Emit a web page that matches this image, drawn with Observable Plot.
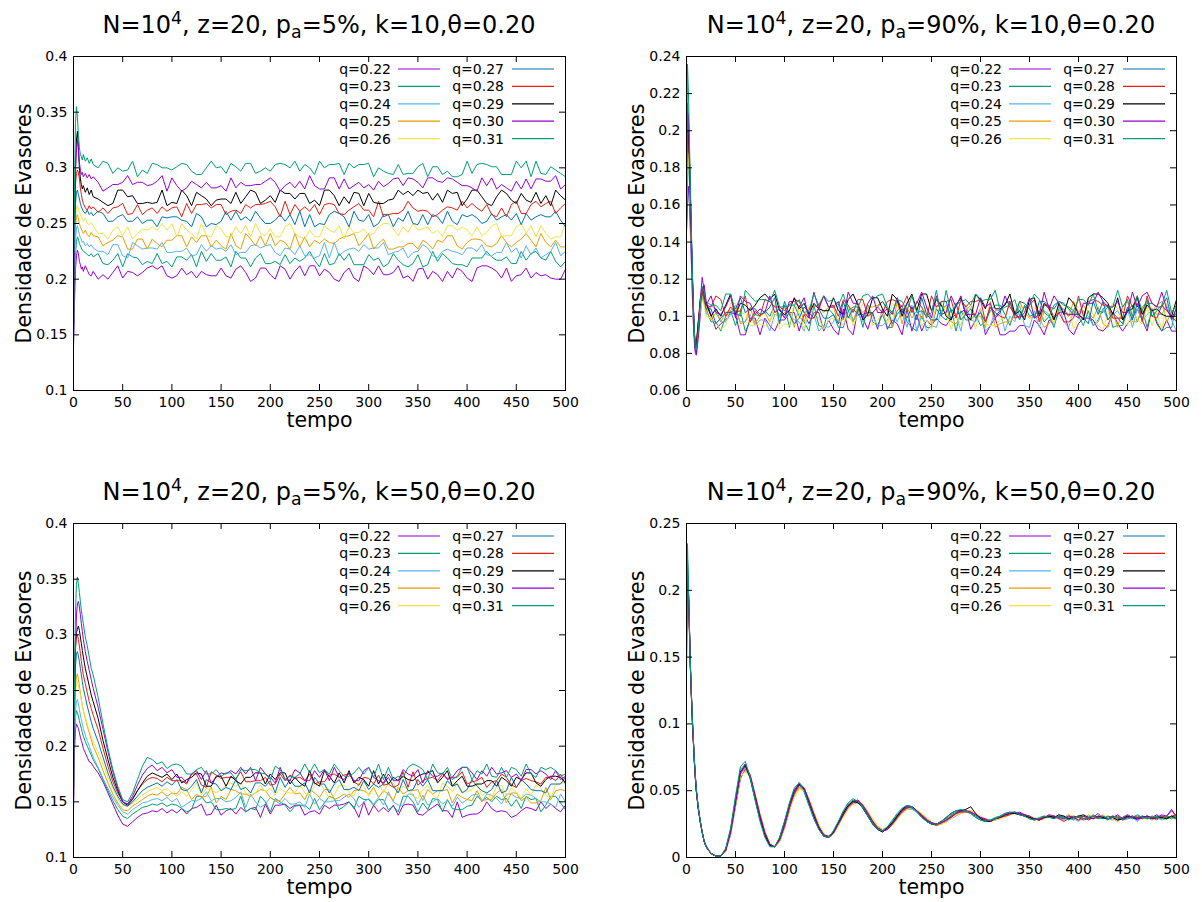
<!DOCTYPE html>
<html>
<head>
<meta charset="utf-8">
<script src="https://cdn.jsdelivr.net/npm/d3@7"></script>
<script src="https://cdn.jsdelivr.net/npm/@observablehq/plot@0.6"></script>
<style>
  html, body { margin: 0; padding: 0; background: #fff; overflow: hidden; }
  #root { position: relative; width: 1202px; height: 902px; font-family: "DejaVu Sans", sans-serif; }
  #root svg { position: absolute; }
  .title { position: absolute; text-align: center; font-size: 24px; line-height: 24px; color: #000; white-space: nowrap; }
  .title sup { font-size: 0.72em; position: relative; top: -0.5em; vertical-align: baseline; }
  .title sub { font-size: 0.72em; position: relative; top: 0.3em; vertical-align: baseline; }
</style>
</head>
<body>
<div id="root"></div>
<script>
// ---------- shared axes / categories ----------
const tempo = [0,1,2,3,4,5,6,7,8,9,10,12,14,16,18,20,
  25,30,35,40,45,50,55,60,65,70,
  75,80,85,90,95,100,105,110,115,120,
  125,130,135,140,145,150,155,160,165,170,
  175,180,185,190,195,200,205,210,215,220,
  225,230,235,240,245,250,255,260,265,270,
  275,280,285,290,295,300,305,310,315,320,
  325,330,335,340,345,350,355,360,365,370,
  375,380,385,390,395,400,405,410,415,420,
  425,430,435,440,445,450,455,460,465,470,
  475,480,485,490,495,500];
const qLabels = ["q=0.22","q=0.23","q=0.24","q=0.25","q=0.26","q=0.27","q=0.28","q=0.29","q=0.30","q=0.31"];
const qColors = ["#9400d3","#009e73","#56b4e9","#e69f00","#f0e442","#0072b2","#e51e10","#000000","#9400d3","#009e73"];
const xTicks = [0,50,100,150,200,250,300,350,400,450,500];
const yTicksA = [0.1,0.15,0.2,0.25,0.3,0.35,0.4];
const yTicksB = [0.06,0.08,0.1,0.12,0.14,0.16,0.18,0.2,0.22,0.24];
const yTicksC = [0.1,0.15,0.2,0.25,0.3,0.35,0.4];
const yTicksD = [0,0.05,0.1,0.15,0.2,0.25];
const titleA = ["N=10","4",", z=20, p","a","=5%, k=10,θ=0.20"];
const titleB = ["N=10","4",", z=20, p","a","=90%, k=10,θ=0.20"];
const titleC = ["N=10","4",", z=20, p","a","=5%, k=50,θ=0.20"];
const titleD = ["N=10","4",", z=20, p","a","=90%, k=50,θ=0.20"];
const xLabel = "tempo";
const yLabel = "Densidade de Evasores";

// ---------- densities, in thousandths (value x 1000), one entry per tempo ----------
// Panel A: p_a=5%, k=10
const A_q22 = [140,178,208,221,226,223,216,213,209,211,207,212,208,204,203,207,
200,204,200,206,212,201,207,206,203,206,
210,212,209,212,203,201,203,210,204,207,
201,207,204,203,203,210,203,201,209,212,
206,198,201,210,210,204,200,212,209,200,
207,212,203,212,212,203,209,206,200,198,
206,210,201,198,212,209,204,212,204,204,
206,212,201,203,198,209,210,200,207,204,
198,207,201,210,207,201,198,210,212,212,
210,207,201,210,198,203,204,210,201,206,
203,204,201,200,200,209];
const A_q23 = [155,195,222,234,238,236,232,230,228,226,225,224,222,221,223,220,
223,214,213,217,223,211,223,220,219,213,
216,214,223,214,216,211,220,220,217,222,
211,225,216,223,217,217,220,211,225,219,
219,211,219,223,214,214,216,213,222,214,
219,216,219,225,217,211,223,213,214,223,
217,223,213,213,213,222,217,219,211,214,
223,217,213,211,214,222,211,213,225,216,
223,219,214,213,213,211,219,219,219,225,
220,217,217,220,214,214,225,217,223,225,
219,217,225,216,211,216];
const A_q24 = [150,200,235,246,248,244,240,237,236,233,234,230,232,229,231,228,
225,225,222,231,231,221,219,233,230,227,
228,228,227,233,224,224,225,225,228,221,
222,231,225,230,227,228,225,231,222,224,
224,230,231,228,230,231,224,221,228,227,
222,230,221,222,219,221,233,219,233,221,
225,227,228,225,231,227,228,228,233,222,
224,225,228,219,224,225,231,228,221,219,
225,227,225,224,222,228,228,225,231,222,
221,224,224,233,224,228,219,230,222,228,
219,222,225,233,221,225];
const A_q25 = [165,215,248,256,258,254,250,247,245,243,241,244,240,238,242,239,
238,230,233,235,239,238,227,227,236,236,
227,236,232,229,235,235,239,239,229,238,
233,239,239,229,235,230,227,241,230,227,
241,236,230,239,230,241,230,235,233,227,
241,229,238,229,235,232,236,233,232,236,
238,239,241,230,235,241,227,232,236,227,
227,229,229,232,232,227,235,232,227,235,
233,239,239,230,227,233,236,236,235,230,
229,232,239,233,229,233,236,241,235,229,
241,233,229,235,229,229];
const A_q26 = [160,220,255,264,266,263,260,258,256,254,252,255,250,249,251,248,
241,241,236,244,247,239,247,236,241,245,
244,247,244,250,244,250,238,250,244,241,
236,250,239,238,248,245,238,238,247,241,
248,238,250,241,239,245,238,238,247,250,
241,238,236,244,238,238,248,244,242,248,
236,247,242,242,245,239,241,247,250,250,
245,239,247,242,250,244,245,247,241,244,
238,248,248,244,247,244,239,247,239,242,
248,250,238,239,239,247,250,241,248,238,
248,241,236,238,238,250];
const A_q27 = [145,230,268,278,280,276,272,268,265,263,261,259,262,258,260,257,
261,259,252,252,256,258,252,252,256,250,
253,253,247,256,255,256,256,253,252,247,
259,256,247,250,249,252,261,253,261,253,
256,252,261,255,250,250,253,258,252,258,
249,261,247,258,247,250,249,258,261,259,
256,247,261,253,252,258,247,250,258,258,
247,255,252,261,250,249,258,249,258,256,
250,261,252,249,258,256,258,255,250,252,
259,253,256,258,253,259,249,259,253,256,
258,256,256,261,253,247];
const A_q28 = [170,255,285,295,298,296,290,282,276,271,268,264,262,266,263,265,
260,264,259,264,265,268,258,259,267,258,
262,264,259,265,261,264,265,256,268,259,
267,267,268,264,267,267,258,261,262,259,
267,264,267,267,268,270,265,256,270,258,
267,261,265,261,267,258,267,268,267,259,
258,262,265,268,262,262,256,270,256,258,
259,259,262,270,264,261,262,261,256,258,
262,265,264,262,270,264,268,264,261,267,
258,256,264,256,267,270,259,259,267,270,
265,268,270,259,264,268];
const A_q29 = [165,250,300,325,333,318,300,290,285,281,284,278,282,276,280,274,
272,269,266,268,280,280,274,275,268,268,
269,268,269,280,266,269,268,280,275,266,
278,275,272,266,271,272,272,268,278,268,
274,280,278,268,271,275,269,280,277,277,
272,277,277,268,271,266,280,280,275,266,
274,268,278,277,266,277,269,268,268,271,
272,280,276,279,275,280,277,278,271,277,
269,280,277,278,266,272,280,280,274,268,
266,274,280,277,271,268,277,271,269,278,
268,275,266,280,275,271];
const A_q30 = [135,240,295,318,325,316,305,298,294,296,292,295,291,294,290,292,
287,279,282,285,285,287,293,285,287,287,
284,285,288,293,279,291,284,279,282,288,
285,282,287,282,282,284,279,291,282,287,
284,284,285,285,288,291,287,279,284,287,
282,288,281,293,284,281,281,291,291,281,
290,281,284,287,282,285,280,288,283,286,
290,291,284,291,290,287,282,291,291,288,
287,291,290,287,284,284,282,279,291,284,
291,281,285,282,279,288,281,290,281,290,
290,288,288,293,281,285];
const A_q31 = [150,280,340,355,345,330,318,312,310,307,312,306,309,304,308,303,
300,306,304,295,300,297,298,306,292,298,
295,304,303,300,300,298,301,304,303,297,
294,294,300,306,300,301,295,304,301,297,
304,304,295,297,300,297,303,304,303,300,
306,297,303,300,294,306,300,303,303,304,
294,304,300,303,303,304,292,300,297,295,
294,303,294,295,295,301,304,292,301,301,
294,297,292,292,294,306,295,303,304,303,
301,301,294,294,294,306,300,306,292,306,
295,294,301,298,295,292];

// Panel B: p_a=90%, k=10
const B_q22 = [145,160,170,160,145,128,110,96,86,80,79,88,100,112,117,108,
101,93,96,98,102,101,90,90,99,99,
90,99,95,92,98,98,102,102,92,101,
96,102,102,92,98,93,90,104,93,90,
104,99,93,102,93,104,93,98,96,90,
104,92,101,92,98,95,99,96,95,99,
101,102,104,93,98,104,90,95,99,90,
90,92,92,95,95,90,98,95,90,98,
96,102,102,93,90,96,99,99,98,93,
92,95,102,96,92,96,99,104,98,92,
104,96,92,98,92,92];
const B_q23 = [147,175,185,172,155,135,116,100,89,83,84,95,106,113,110,104,
97,97,92,100,103,95,103,92,97,101,
100,103,100,106,100,106,94,106,100,97,
92,106,95,94,104,101,94,94,103,97,
104,94,106,97,95,101,94,94,103,106,
97,94,92,100,94,94,104,100,98,104,
92,103,98,98,101,95,97,103,106,106,
101,95,103,98,106,100,101,103,97,100,
94,104,104,100,103,100,95,103,95,98,
104,106,94,95,95,103,106,97,104,94,
104,97,92,94,94,106];
const B_q24 = [155,180,190,176,158,138,118,102,90,84,85,96,104,110,108,101,
106,104,97,97,101,103,97,97,101,95,
98,98,92,101,100,101,101,98,97,92,
104,101,92,95,94,97,106,98,106,98,
101,97,106,100,95,95,98,103,97,103,
94,106,92,103,92,95,94,103,106,104,
101,92,106,98,97,103,92,95,103,103,
92,100,97,106,95,94,103,94,103,101,
95,106,97,94,103,101,103,100,95,97,
104,98,101,103,98,104,94,104,98,101,
103,101,101,106,98,92];
const B_q25 = [188,190,192,178,160,140,120,104,92,85,86,97,105,111,107,103,
98,102,97,102,103,106,96,97,105,96,
100,102,97,103,99,102,103,94,106,97,
105,105,106,102,105,105,96,99,100,97,
105,102,105,105,106,108,103,94,108,96,
105,99,103,99,105,96,105,106,105,97,
96,100,103,106,100,100,94,108,94,96,
97,97,100,108,102,99,100,99,94,96,
100,103,102,100,108,102,106,102,99,105,
96,94,102,94,105,108,97,97,105,108,
103,106,108,97,102,106];
const B_q26 = [170,182,188,175,158,139,119,103,91,85,86,96,103,109,106,100,
99,96,93,95,107,107,101,102,95,95,
96,95,96,107,93,96,95,107,102,93,
105,102,99,93,98,99,99,95,105,95,
101,107,105,95,98,102,96,107,104,104,
99,104,104,95,98,93,107,107,102,93,
101,95,105,104,93,104,96,95,95,98,
99,107,103,106,102,107,104,105,98,104,
96,107,104,105,93,99,107,107,101,95,
93,101,107,104,98,95,104,98,96,105,
95,102,93,107,102,98];
const B_q27 = [165,215,205,185,165,143,122,105,92,85,84,94,105,113,110,104,
104,96,99,102,102,104,110,102,104,104,
101,102,105,110,96,108,101,96,99,105,
102,99,104,99,99,101,96,108,99,104,
101,101,102,102,105,108,104,96,101,104,
99,105,98,110,101,98,98,108,108,98,
107,98,101,104,99,102,97,105,100,103,
107,108,101,108,107,104,99,108,108,105,
104,108,107,104,101,101,99,96,108,101,
108,98,102,99,96,105,98,107,98,107,
107,105,105,110,98,102];
const B_q28 = [185,195,198,182,162,141,121,104,91,84,85,97,108,114,109,106,
105,111,109,100,105,102,103,111,97,103,
100,109,108,105,105,103,106,109,108,102,
99,99,105,111,105,106,100,109,106,102,
109,109,100,102,105,102,108,109,108,105,
111,102,108,105,99,111,105,108,108,109,
99,109,105,108,108,109,97,105,102,100,
99,108,99,100,100,106,109,97,106,106,
99,102,97,97,99,111,100,108,109,108,
106,106,99,99,99,111,105,111,97,111,
100,99,106,103,100,97];
const B_q29 = [195,200,200,184,164,142,121,104,90,83,84,96,109,116,112,107,
100,104,100,106,112,101,107,106,103,106,
110,112,109,112,103,101,103,110,104,107,
101,107,104,103,103,110,103,101,109,112,
106,98,101,110,110,104,100,112,109,100,
107,112,103,112,112,103,109,106,100,98,
106,110,101,98,112,109,104,112,104,104,
106,112,101,103,98,109,110,100,107,104,
98,107,101,110,107,101,98,110,112,112,
110,107,101,110,98,103,104,110,101,106,
103,104,101,100,100,109];
const B_q30 = [175,210,208,188,166,144,123,105,91,82,80,92,108,121,114,106,
111,102,101,105,111,99,111,108,107,101,
104,102,111,102,104,99,108,108,105,110,
99,113,104,111,105,105,108,99,113,107,
107,99,107,111,102,102,104,101,110,102,
107,104,107,113,105,99,111,101,102,111,
105,111,101,101,101,110,105,107,99,102,
111,105,101,99,102,110,99,101,113,104,
111,107,102,101,101,99,107,107,107,113,
108,105,105,108,102,102,113,105,111,113,
107,105,113,104,99,104];
const B_q31 = [160,236,220,195,170,147,125,107,92,83,82,93,107,116,113,108,
106,106,103,112,112,102,100,114,111,108,
109,109,108,114,105,105,106,106,109,102,
103,112,106,111,108,109,106,112,103,105,
105,111,112,109,111,112,105,102,109,108,
103,111,102,103,100,102,114,100,114,102,
106,108,109,106,112,108,109,109,114,103,
105,106,109,100,105,106,112,109,102,100,
106,108,106,105,103,109,109,106,112,103,
102,105,105,114,105,109,100,111,103,109,
100,103,106,114,102,106];

// Panel C: p_a=5%, k=50
const C_q22 = [140,195,215,220,218,216,212,208,205,202,198,194,190,186,185,182,
176,168,158,148,138,130,128,132,136,139,140,142,141,144,140,143,
140,144,139,144,145,148,138,139,147,138,
142,144,139,145,141,144,145,136,148,139,
147,147,148,144,147,147,138,141,142,139,
147,144,147,147,148,150,145,136,150,138,
147,141,145,141,147,138,147,148,147,139,
138,142,145,148,142,142,136,150,136,138,
139,139,142,150,144,141,142,141,136,138,
142,145,144,142,150,144,148,144,141,147];
const C_q23 = [160,205,226,232,230,227,223,219,216,212,209,204,200,196,192,188,
180,170,160,151,143,137,135,139,142,145,146,148,147,149,146,148,
147,144,141,143,155,155,149,150,143,143,
144,143,144,155,141,144,143,155,150,141,
153,150,147,141,146,147,147,143,153,143,
149,155,153,143,146,150,144,155,152,152,
147,152,152,143,146,141,155,155,150,141,
149,143,153,152,141,152,144,143,143,146,
147,155,151,154,150,155,152,153,146,152,
144,155,152,153,141,147,155,155,149,143];
const C_q24 = [150,205,233,240,242,238,233,228,224,220,216,210,205,200,195,190,
181,171,162,154,147,141,139,143,146,149,150,152,153,151,154,150,
153,145,148,151,151,153,159,151,153,153,
150,151,154,159,145,157,150,145,148,154,
151,148,153,148,148,150,145,157,148,153,
150,150,151,151,154,157,153,145,150,153,
148,154,147,159,150,147,147,157,157,147,
156,147,150,153,148,151,146,154,149,152,
156,157,150,157,156,153,148,157,157,154,
153,157,156,153,150,150,148,145,157,150];
const C_q25 = [165,225,255,263,265,260,254,248,242,237,232,225,218,212,206,200,
190,178,167,157,149,143,142,146,149,152,155,157,156,159,155,158,
157,163,161,152,157,154,155,163,149,155,
152,161,160,157,157,155,158,161,160,154,
151,151,157,163,157,158,152,161,158,154,
161,161,152,154,157,154,160,161,160,157,
163,154,160,157,151,163,157,160,160,161,
151,161,157,160,160,161,149,157,154,152,
151,160,151,152,152,158,161,149,158,158,
151,154,149,149,151,163,152,160,161,160];
const C_q26 = [150,215,248,256,258,255,250,246,241,236,232,226,220,214,209,204,
195,184,172,162,153,147,146,149,152,156,159,161,163,160,162,158,
155,159,155,161,167,156,162,161,158,161,
165,167,164,167,158,156,158,165,159,162,
156,162,159,158,158,165,158,156,164,167,
161,153,156,165,165,159,155,167,164,155,
162,167,158,167,167,158,164,161,155,153,
161,165,156,153,167,164,159,167,159,159,
161,167,156,158,153,164,165,155,162,159,
153,162,156,165,162,156,153,165,167,167];
const C_q27 = [160,240,272,283,285,281,276,270,264,258,252,244,236,229,222,216,
204,190,176,164,155,148,146,150,155,160,163,165,167,164,168,165,
170,161,160,164,170,158,170,167,166,160,
163,161,170,161,163,158,167,167,164,169,
158,172,163,170,164,164,167,158,172,166,
166,158,166,170,161,161,163,160,169,161,
166,163,166,172,164,158,170,160,161,170,
164,170,160,160,160,169,164,166,158,161,
170,164,160,158,161,169,158,160,172,163,
170,166,161,160,160,158,166,166,166,172];
const C_q28 = [180,255,288,298,300,296,290,283,276,270,264,256,248,240,234,228,
215,198,182,168,158,150,148,153,160,166,170,172,171,168,172,169,
169,169,166,175,175,165,163,177,174,171,
172,172,171,177,168,168,169,169,172,165,
166,175,169,174,171,172,169,175,166,168,
168,174,175,172,174,175,168,165,172,171,
166,174,165,166,163,165,177,163,177,165,
169,171,172,169,175,171,172,172,177,166,
168,169,172,163,168,169,175,172,165,163,
169,171,169,168,166,172,172,169,175,166];
const C_q29 = [190,265,295,302,305,308,304,298,292,286,280,270,262,254,246,240,
225,205,188,172,160,150,147,152,160,167,173,176,174,172,175,170,
175,167,170,172,176,175,164,164,173,173,
164,173,169,166,172,172,176,176,166,175,
170,176,176,166,172,167,164,178,167,164,
178,173,167,176,167,178,167,172,170,164,
178,166,175,166,172,169,173,170,169,173,
175,176,178,167,172,178,164,169,173,164,
164,166,166,169,169,164,172,169,164,172,
170,176,176,167,164,170,173,173,172,167];
const C_q30 = [145,220,285,318,328,330,325,318,310,303,296,285,276,268,260,252,
235,215,195,177,162,150,148,155,165,174,180,183,178,181,176,179,
172,172,167,175,178,170,178,167,172,176,
175,178,175,181,175,181,169,181,175,172,
167,181,170,169,179,176,169,169,178,172,
179,169,181,172,170,176,169,169,178,181,
172,169,167,175,169,169,179,175,173,179,
167,178,173,173,176,170,172,178,181,181,
176,170,178,173,181,175,176,178,172,175,
169,179,179,175,178,175,170,178,170,173];
const C_q31 = [155,250,320,345,352,346,338,330,322,316,310,298,290,280,270,264,
244,220,198,179,164,152,150,158,170,182,190,188,184,186,180,183,
184,182,175,175,179,181,175,175,179,173,
176,176,170,179,178,179,179,176,175,170,
182,179,170,173,172,175,184,176,184,176,
179,175,184,178,173,173,176,181,175,181,
172,184,170,181,170,173,172,181,184,182,
179,170,184,176,175,181,170,173,181,181,
170,178,175,184,173,172,181,172,181,179,
173,184,175,172,181,179,181,178,173,175];

// Panel D: p_a=90%, k=50
const D_q22 = [137,205,195,168,140,120,102,87,72,60,50,37,27,19,13,9,
3,1,1,5,17,38,59,66,61,47,
32,19,10,8,12,22,35,47,54,52,
43,33,24,17,15,18,25,32,38,42,
43,39,34,27,22,20,21,25,30,35,
37,37,35,32,29,26,25,25,27,30,
33,34,35,34,32,30,28,27,29,30,
31,33,33,34,32,31,29,28,30,31,
29,31,30,32,29,30,31,28,30,33,
29,30,31,29,30,32,30,28,31,29,
30,32,29,31,36,30];
const D_q23 = [150,225,200,172,143,122,103,88,73,61,51,37,27,19,12,8,
3,1,1,6,21,44,66,70,59,43,
28,16,9,8,15,27,40,51,55,49,
39,29,21,16,15,20,27,34,40,43,
41,37,31,25,21,20,23,27,32,36,
38,37,34,30,27,25,25,27,29,32,
34,35,34,33,30,28,27,28,30,31,
33,34,33,32,31,29,28,29,31,30,
31,29,31,30,28,31,30,29,32,30,
30,28,31,30,29,31,30,31,29,31,
30,28,31,30,29,31];
const D_q24 = [158,200,192,166,139,119,101,86,71,59,49,36,26,18,12,8,
3,1,1,6,19,41,62,67,60,45,
30,18,10,8,13,24,37,48,53,50,
42,32,23,17,16,19,25,32,37,40,
41,38,33,27,23,21,22,25,29,33,
36,36,34,31,28,26,25,26,27,29,
31,33,34,34,32,30,29,28,28,30,
31,32,33,32,31,30,29,29,30,31,
30,29,28,30,29,27,30,31,29,30,
31,29,28,30,29,31,30,27,30,29,
31,30,28,29,30,29];
const D_q25 = [175,210,196,170,142,121,102,87,72,60,50,37,27,19,12,8,
3,1,1,5,18,39,60,65,61,47,
31,18,10,8,12,23,36,47,52,50,
43,33,24,17,15,18,24,31,37,41,
41,39,34,28,23,21,21,24,29,34,
37,37,35,32,29,26,24,25,27,30,
32,33,35,35,33,30,28,27,28,29,
31,32,33,33,32,30,29,28,29,31,
31,30,29,31,30,28,29,32,30,29,
30,31,29,27,30,31,30,29,31,30,
28,30,31,29,30,31];
const D_q26 = [180,215,198,171,142,121,102,87,72,60,50,37,27,19,12,8,
3,1,1,5,18,40,61,64,60,48,
33,20,11,8,12,22,35,45,51,50,
44,34,25,18,16,18,24,30,36,40,
42,40,35,29,24,21,21,24,28,33,
36,37,36,33,30,27,25,25,26,29,
32,33,34,34,33,31,29,28,28,29,
30,32,33,33,32,31,30,29,30,32,
31,30,30,32,31,29,30,31,29,31,
32,30,29,31,30,29,31,30,29,30,
31,30,29,31,30,28];
const D_q27 = [165,222,200,172,143,122,103,88,73,61,51,37,27,19,12,8,
3,1,1,6,20,43,64,69,59,44,
29,17,9,8,14,25,38,49,55,51,
41,31,22,16,15,19,26,33,39,42,
42,38,32,26,22,20,22,26,31,35,
38,37,35,31,28,26,25,26,28,31,
33,35,35,33,31,29,28,28,29,30,
32,33,33,33,32,30,29,29,30,31,
30,31,30,29,30,31,29,30,31,30,
29,31,30,28,30,31,29,30,31,30,
29,31,30,29,31,30];
const D_q28 = [185,205,198,170,142,121,102,87,72,60,50,37,27,19,12,8,
3,1,1,5,19,41,63,68,62,47,
32,19,10,8,13,23,37,48,54,52,
43,33,23,17,15,18,25,32,38,41,
42,39,33,27,22,20,21,25,30,34,
37,38,35,32,28,25,24,26,28,31,
33,34,34,34,32,30,28,27,29,30,
31,32,34,33,32,30,28,29,30,30,
31,29,27,29,31,30,28,29,31,30,
30,29,31,30,28,30,31,30,29,31,
30,29,31,30,31,32];
const D_q29 = [190,208,199,171,142,121,102,87,72,60,50,37,27,19,12,8,
3,1,1,6,20,42,64,69,60,45,
30,17,9,8,14,26,39,50,55,51,
41,31,22,16,15,19,26,33,39,42,
41,37,31,25,21,19,22,26,31,36,
39,38,35,31,27,25,25,27,30,33,
35,35,36,38,33,29,27,27,29,30,
32,33,33,32,31,30,29,28,30,31,
30,32,31,29,30,31,32,30,29,31,
30,29,30,28,29,31,30,29,30,31,
29,30,30,29,31,29];
const D_q30 = [170,215,200,172,143,122,103,88,73,61,51,37,27,19,12,8,
3,1,1,6,19,42,63,70,61,46,
31,18,10,8,13,24,38,49,56,52,
42,32,23,17,16,19,25,32,38,42,
43,39,33,27,22,20,21,25,30,35,
38,38,35,31,28,26,25,26,28,30,
33,35,35,34,32,30,29,27,29,30,
32,33,34,33,32,31,29,28,30,32,
31,30,29,31,30,28,31,30,29,31,
31,29,30,32,29,30,31,29,30,31,
29,30,32,31,35,31];
const D_q31 = [160,235,202,173,144,123,104,89,74,62,52,38,28,19,12,8,
3,1,1,7,22,46,68,72,60,43,
27,15,8,8,15,27,41,52,56,50,
39,29,21,16,15,20,27,35,41,44,
42,37,31,25,21,20,23,28,33,37,
39,38,34,30,27,25,25,27,30,33,
35,36,35,33,30,28,27,28,29,31,
33,34,34,32,31,29,28,30,31,30,
29,31,30,28,30,31,29,30,31,29,
31,29,30,31,28,29,30,32,30,29,
31,30,29,31,30,29];

// ---------- build ----------
function rowsOf(seriesList) {
  const rows = [];
  seriesList.forEach((arr, j) => {
    const n = Math.min(arr.length, tempo.length);
    for (let i = 0; i < n; i++) rows.push({t: tempo[i], v: arr[i] / 1000, q: qLabels[j]});
  });
  return rows;
}

const panels = [
  {left: 0,   top: 0,   width: 600, height: 450, ml: 73, mr: 35, mt: 56, mb: 60, yDomain: [0.1, 0.4],  yTicks: yTicksA, title: titleA,
   series: [A_q22,A_q23,A_q24,A_q25,A_q26,A_q27,A_q28,A_q29,A_q30,A_q31]},
  {left: 600, top: 0,   width: 602, height: 450, ml: 86, mr: 26, mt: 56, mb: 60, yDomain: [0.06, 0.24], yTicks: yTicksB, title: titleB,
   series: [B_q22,B_q23,B_q24,B_q25,B_q26,B_q27,B_q28,B_q29,B_q30,B_q31]},
  {left: 0,   top: 450, width: 600, height: 452, ml: 73, mr: 35, mt: 73, mb: 45, yDomain: [0.1, 0.4],  yTicks: yTicksC, title: titleC,
   series: [C_q22,C_q23,C_q24,C_q25,C_q26,C_q27,C_q28,C_q29,C_q30,C_q31]},
  {left: 600, top: 450, width: 602, height: 452, ml: 86, mr: 26, mt: 73, mb: 45, yDomain: [0, 0.25],   yTicks: yTicksD, title: titleD,
   series: [D_q22,D_q23,D_q24,D_q25,D_q26,D_q27,D_q28,D_q29,D_q30,D_q31]}
];

const root = document.getElementById("root");
const fontFamily = "DejaVu Sans, sans-serif";

for (const p of panels) {
  const innerW = p.width - p.ml - p.mr;
  const innerH = p.height - p.mt - p.mb;
  const rows = rowsOf(p.series);
  const svg = Plot.plot({
    width: p.width, height: p.height,
    marginLeft: p.ml, marginRight: p.mr, marginTop: p.mt, marginBottom: p.mb,
    style: {fontFamily, fontSize: "14px", color: "#000", background: "transparent", overflow: "visible"},
    x: {domain: [0, 500]},
    y: {domain: p.yDomain},
    color: {domain: qLabels, range: qColors},
    marks: [
      Plot.line(rows, {x: "t", y: "v", z: "q", stroke: "q", strokeWidth: 1, clip: true}),
      Plot.frame({stroke: "#000", strokeWidth: 1}),
      Plot.ruleX(xTicks, {x: d => d, insetTop: innerH - 6, stroke: "#000"}),
      Plot.ruleX(xTicks, {x: d => d, insetBottom: innerH - 6, stroke: "#000"}),
      Plot.ruleY(p.yTicks, {y: d => d, insetRight: innerW - 6, stroke: "#000"}),
      Plot.ruleY(p.yTicks, {y: d => d, insetLeft: innerW - 6, stroke: "#000"}),
      Plot.axisX(xTicks, {tickSize: 0, tickPadding: 7, tickFormat: d => `${d}`, label: null, fontSize: 14}),
      Plot.axisY(p.yTicks, {tickSize: 0, tickPadding: 6, tickFormat: d => `${d}`, label: null, fontSize: 14}),
      Plot.text([yLabel], {frameAnchor: "left", rotate: -90, dx: -49, fontSize: 20.5, textAnchor: "middle", lineAnchor: "middle", text: d => d}),
      Plot.text([xLabel], {frameAnchor: "bottom", dy: 30, fontSize: 20.5, textAnchor: "middle", lineAnchor: "middle", text: d => d})
    ]
  });
  svg.style.left = p.left + "px";
  svg.style.top = p.top + "px";

  // legend (inside the frame, top-right), gnuplot style
  const right = p.width - p.mr;
  const g = d3.select(svg).append("g").attr("font-family", fontFamily).attr("font-size", 14);
  qLabels.forEach((lab, i) => {
    const col = i < 5 ? 0 : 1;
    const row = i % 5;
    const y = p.mt + 13 + 17.4 * row;
    g.append("text")
      .attr("x", right - (col ? 61 : 174)).attr("y", y).attr("dy", "0.35em")
      .attr("text-anchor", "end").attr("fill", "#000").text(lab);
    g.append("line")
      .attr("x1", right - (col ? 53 : 167)).attr("x2", right - (col ? 11 : 125))
      .attr("y1", y).attr("y2", y)
      .attr("stroke", qColors[i]).attr("stroke-width", 1.2);
  });
  root.appendChild(svg);

  // title
  const t = document.createElement("div");
  t.className = "title";
  t.style.left = (p.left + p.ml) + "px";
  t.style.width = innerW + "px";
  t.style.top = (p.top + p.mt - 43) + "px";
  const [a, sup, b, sub, c] = p.title;
  t.append(a);
  const s1 = document.createElement("sup"); s1.textContent = sup; t.append(s1);
  t.append(b);
  const s2 = document.createElement("sub"); s2.textContent = sub; t.append(s2);
  t.append(c);
  root.appendChild(t);
}
</script>
</body>
</html>
